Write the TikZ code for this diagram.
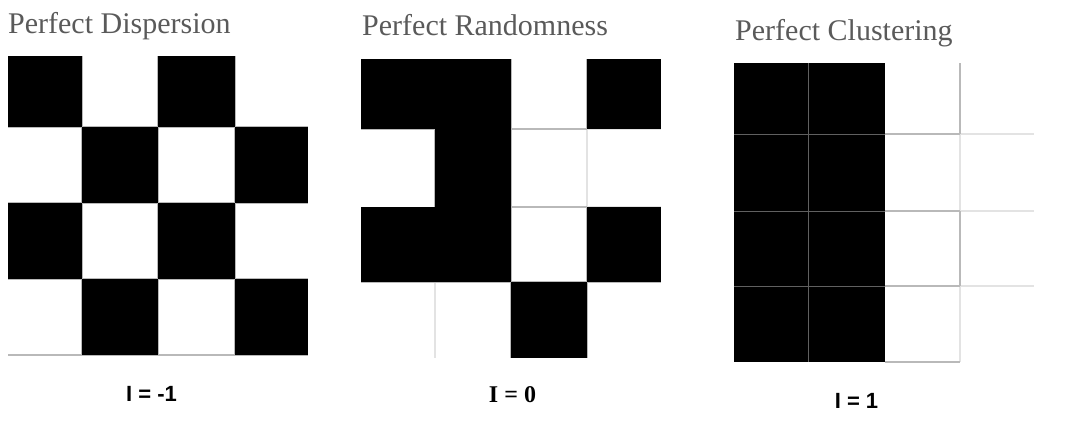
\documentclass[tikz,border=0pt]{standalone}
\usepackage{fontspec}
\newfontfamily\titlefont{Liberation Serif}
\newfontfamily\lblsans{Liberation Sans}
\newfontfamily\lblserif{Liberation Serif}
\definecolor{titlegray}{HTML}{5A5A5A}
\tikzset{
  titletext/.style={anchor=base west, inner sep=0pt, text=titlegray, font=\titlefont\fontsize{30}{34}\selectfont},
  sanslabel/.style={anchor=base, inner sep=0pt, font=\lblsans\bfseries\fontsize{22}{26}\selectfont},
  seriflabel/.style={anchor=base, inner sep=0pt, font=\lblserif\bfseries\fontsize{24}{28}\selectfont},
  blackcell/.style={fill=black, draw=none},
  gridline/.style={draw=gray!55, line width=1.3pt},
  faintline/.style={draw=gray!22, line width=1.1pt},
  innerline/.style={draw=gray!75!black, line width=1pt}
}
\begin{document}
\begin{tikzpicture}[x=1pt,y=-1pt]
\useasboundingbox (0,0) rectangle (1074,440);

% ---------- Titles ----------
\node[titletext] (t1) at (8,33) {Perfect Dispersion};
\node[titletext] (t2) at (362,35) {Perfect Randomness};
\node[titletext] (t3) at (735,40) {Perfect Clustering};

% ---------- Panel 1: Perfect Dispersion ----------
\foreach \x in {82,158,235} \draw[gridline] (\x,56) -- (\x,355);
\foreach \y in {127,203,279,355} \draw[gridline] (8,\y) -- (308,\y);
\fill[blackcell] (8,56) rectangle (82,127);
\fill[blackcell] (158,56) rectangle (235,127);
\fill[blackcell] (82,127) rectangle (158,203);
\fill[blackcell] (235,127) rectangle (308,203);
\fill[blackcell] (8,203) rectangle (82,279);
\fill[blackcell] (158,203) rectangle (235,279);
\fill[blackcell] (82,279) rectangle (158,355);
\fill[blackcell] (235,279) rectangle (308,355);

% ---------- Panel 2: Perfect Randomness ----------
\draw[faintline] (435,282) -- (435,358);
\draw[faintline] (587,129) -- (587,207);
\draw[faintline] (587,207) -- (661,207);
\draw[faintline] (587,129) -- (661,129);
\draw[gridline] (361,129) -- (511,129);
\draw[gridline] (511,129) -- (587,129);
\draw[gridline] (435,129) -- (435,207);
\draw[gridline] (511,59) -- (511,358);
\draw[gridline] (587,59) -- (587,129);
\draw[gridline] (511,207) -- (587,207);
\draw[gridline] (587,207) -- (587,358);
\draw[gridline] (361,282) -- (661,282);
\fill[blackcell] (361,59) rectangle (511,129);
\fill[blackcell] (587,59) rectangle (661,129);
\fill[blackcell] (435,129) rectangle (511,207);
\fill[blackcell] (361,207) rectangle (511,282);
\fill[blackcell] (587,207) rectangle (661,282);
\fill[blackcell] (511,282) rectangle (587,358);

% ---------- Panel 3: Perfect Clustering ----------
\foreach \y in {134,211,286} \draw[faintline] (960,\y) -- (1034,\y);
\draw[faintline] (960,134) -- (960,211);
\draw[faintline] (960,286) -- (960,362);
\draw[gridline] (960,63) -- (960,134);
\draw[gridline] (960,211) -- (960,286);
\foreach \y in {134,211,286,362} \draw[gridline] (885,\y) -- (960,\y);
\fill[blackcell] (734,63) rectangle (885,362);
\draw[innerline] (808,63) -- (808,362);
\foreach \y in {134,211,286} \draw[innerline] (734,\y) -- (885,\y);

% ---------- Labels ----------
\node[sanslabel] (l1) at (151.5,401) {I = -1};
\node[seriflabel] (l2) at (512.5,402) {I = 0};
\node[sanslabel] (l3) at (856.5,408) {I = 1};
\end{tikzpicture}
\end{document}
